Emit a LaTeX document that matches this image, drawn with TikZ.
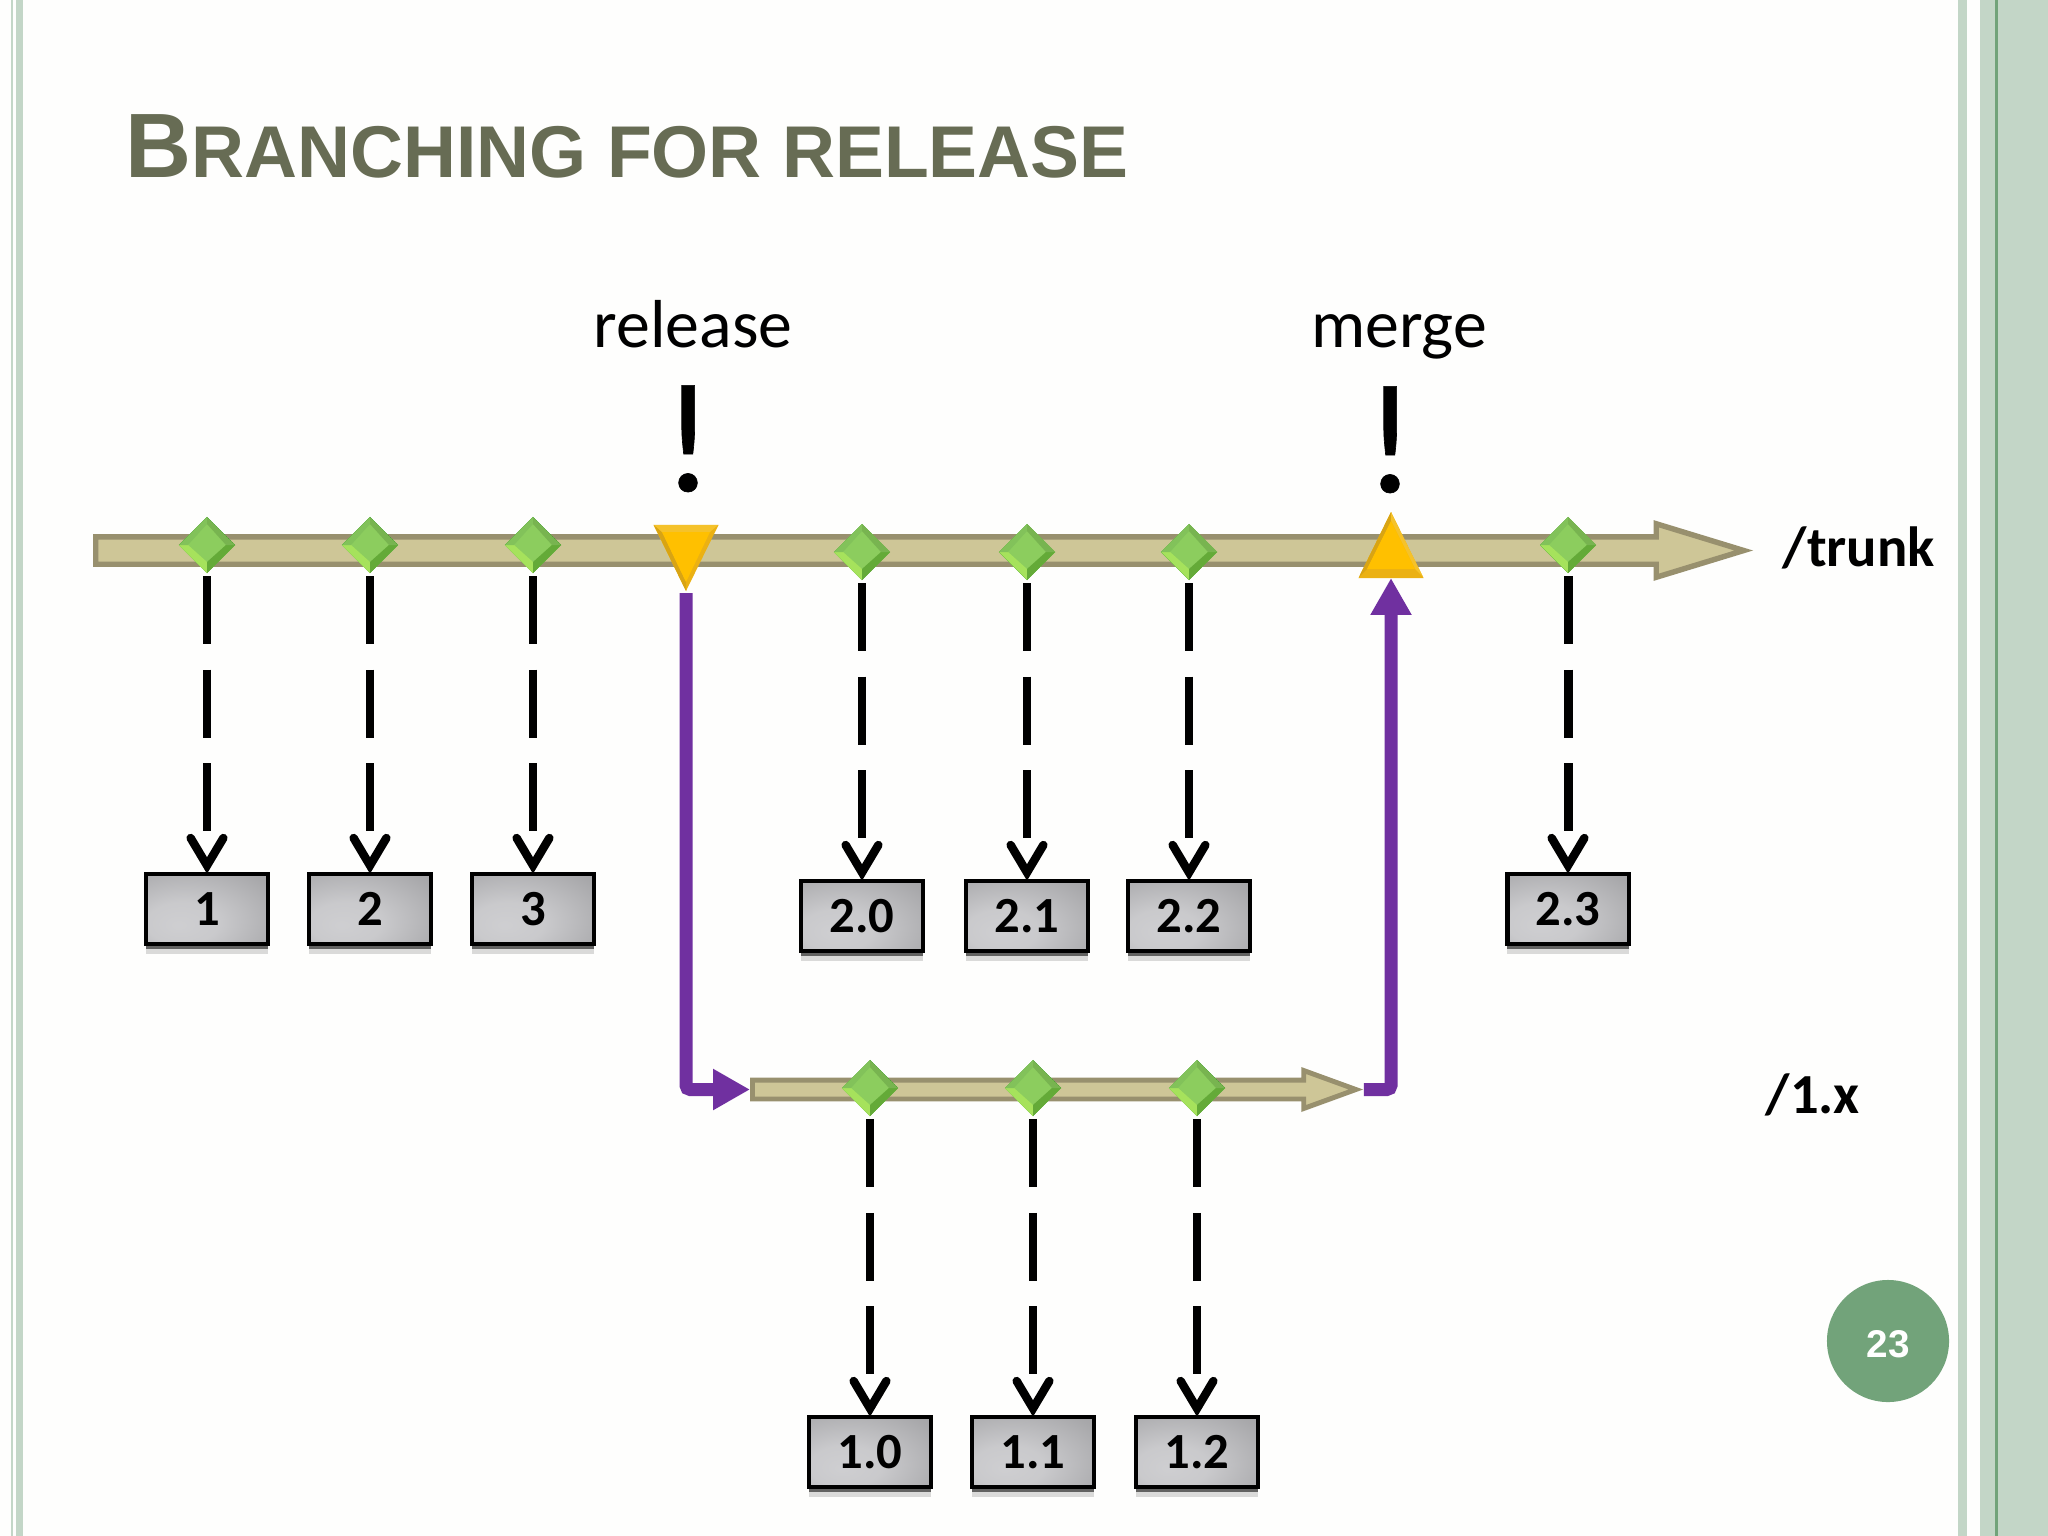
\documentclass[tikz,border=0pt]{standalone}
\usepackage{fontspec}
\setmainfont{Carlito}
\newfontfamily\titlefont{Liberation Sans}
\newfontfamily\bangfont[FakeBold=0.4]{Carlito}
\usetikzlibrary {arrows.meta, positioning, shapes.geometric, shapes.arrows, shadows}

\definecolor{pagebg}{HTML}{FEFEFD}
\definecolor{stripe}{HTML}{C3D6C7}
\definecolor{stripedark}{HTML}{72A37A}
\definecolor{shaftfill}{HTML}{CEC697}
\definecolor{shaftline}{HTML}{98906E}
\definecolor{branchline}{HTML}{7030A0}
\definecolor{titlegrey}{HTML}{676C54}
\definecolor{goldedge}{HTML}{EBB113}
\definecolor{golddark}{HTML}{D8A414}
\definecolor{goldlight}{HTML}{F5C22A}
\definecolor{goldmid}{HTML}{FFC000}
\pgfdeclareradialshading{tagshade}{\pgfpoint{-12bp}{-12bp}}{rgb(0bp)=(0.81,0.81,0.82); rgb(15bp)=(0.79,0.79,0.80); rgb(40bp)=(0.66,0.66,0.67); rgb(60bp)=(0.58,0.58,0.59); rgb(100bp)=(0.50,0.50,0.51)}

\begin{document}
\begin{tikzpicture}[
    x=0.01cm,
    y=-0.01cm,
    node distance=3.635cm,
    on grid,
    commit/.style={diamond, aspect=1, inner sep=0pt, outer sep=0pt, minimum width=.56cm, minimum height=.56cm, fill=green!50!black,
        path picture={
            \begin{scope}[shift={(path picture bounding box.center)}]
                \fill[color={rgb,255:red,140;green,205;blue,94}] (-28,0) -- (0,-28) -- (28,0) -- (0,28) -- cycle;
                \fill[color={rgb,255:red,166;green,226;blue,92}] (0,28) -- (-28,0) -- (-19,0) -- (0,17) -- cycle;
                \fill[color={rgb,255:red,100;green,170;blue,56}] (0,28) -- (28,0) -- (19,0) -- (0,17) -- cycle;
                \fill[color={rgb,255:red,130;green,194;blue,90}] (-28,0) -- (0,-28) -- (0,-21) -- (-19,0) -- cycle;
                \fill[color={rgb,255:red,120;green,180;blue,80}] (28,0) -- (0,-28) -- (0,-21) -- (19,0) -- cycle;
            \end{scope}}},
    tagbox/.style={rectangle, draw=black, line width=1.15pt, outer sep=0pt, inner sep=0pt, minimum width=1.21cm, minimum height=.70cm,
        shade, shading=tagshade, font=\fontsize{14.4}{16}\selectfont\bfseries,
        drop shadow={shadow xshift=0pt, shadow yshift=-3pt, opacity=.14, fill=black},
        drop shadow={shadow xshift=0pt, shadow yshift=-1.5pt, opacity=.55, fill=black}},
    tagline/.style={draw=black, line width=2.55pt, shorten <=0.03cm,
        dash pattern=on 19.28pt off 7.37pt on 19.28pt off 7.37pt on 19.28pt off 60pt,
        -{Straight Barb[length=7.8pt, width=9.3pt, line width=2.4pt, line cap=round, line join=miter]}},
    relline/.style={draw=branchline, line width=3.7pt, rounded corners=1.2pt,
        -{Triangle[length=10.5pt, width=11pt]}},
    goldtri/.style={isosceles triangle, isosceles triangle stretches, anchor=apex, inner sep=0pt, outer sep=0pt, minimum width=.65cm, minimum height=.66cm, fill=goldedge},
    bigarrow/.style={single arrow, anchor=tail, draw=shaftline, fill=shaftfill, inner xsep=0pt, outer sep=0pt},
    word/.style={anchor=base, font=\fontsize{19.3}{22}\selectfont},
    bang/.style={anchor=base, font=\bangfont\fontsize{44.5}{50}\selectfont},
    path/.style={anchor=base west, inner sep=0pt, font=\fontsize{16.1}{20}\selectfont\bfseries},
]

    \useasboundingbox (0,0) rectangle (2048,1536);
    \fill[pagebg] (0,0) rectangle (2048,1536);

    % page edges
    \fill[stripe] (11,0) rectangle (13,1536);
    \fill[stripe] (16,0) rectangle (23,1536);
    \fill[stripe] (1958,0) rectangle (1967,1536);
    \fill[stripe] (1980,0) rectangle (2048,1536);
    \fill[stripedark] (1995,0) rectangle (1998,1536);

    \node[anchor=base west, text=titlegrey, inner sep=0pt, font=\titlefont\bfseries] (title) at (125,177)
        {\fontsize{26}{30}\selectfont B\fontsize{20.85}{30}\selectfont RANCHING FOR RELEASE};

    \node[word] (releaselbl) at (693,347) {release};
    \node[word] (mergelbl)   at (1399,347) {merge};
    \node[bang] (releasebang) at (688,491) {!};
    \node[bang] (mergebang)   at (1390,492) {!};

    % the two lines
    \node[bigarrow, line width=1.55pt, inner ysep=.11cm, minimum height=16.47cm, single arrow head extend=.13cm, single arrow tip angle=34] (trunk) at (95.75,550.5) {};
    \node[bigarrow, line width=1.4pt, inner ysep=.07cm, minimum height=6.03cm, single arrow head extend=.095cm, single arrow tip angle=40] (onex) at (752.5,1089.5) {};

    \coordinate (onexin)  at ([xshift=-0.025cm]onex.tail);
    \coordinate (onexout) at ([xshift=0.08cm]onex.tip);

    \node[path] (trunklbl) at (1782,566) {/trunk};
    \node[path] (onexlbl)  at (1765,1113) {/1.x};

    \node[goldtri, shape border rotate=270] (rel) at (686,591) {};
    \node[goldtri, shape border rotate=90]  (mrg) at (1391,512) {};
    \begin{scope}[shift={(rel.apex)}]
        \fill[golddark]  (0,0) -- (-32,-66) -- (-24,-59) -- (0,-9) -- cycle;
        \fill[goldlight] (-32,-66) -- (32,-66) -- (24,-59) -- (-24,-59) -- cycle;
        \fill[goldmid] (-24,-59) -- (24,-59) -- (0,-9) -- cycle;
    \end{scope}
    \begin{scope}[shift={(mrg.apex)}]
        \fill[golddark]  (0,0) -- (-32,65) -- (-24,57) -- (0,9) -- cycle;
        \fill[goldlight] (0,0) -- (32,65) -- (24,57) -- (0,9) -- cycle;
        \fill[goldmid] (-24,57) -- (24,57) -- (0,9) -- cycle;
    \end{scope}

    % commits on /trunk
    \node[commit] (c1) at (207,545) {};
    \node[commit] (c2) at (370,545) {};
    \node[commit] (c3) at (533,545) {};
    \node[commit] (c4) at (862,552) {};
    \node[commit] (c5) at (1027,552) {};
    \node[commit] (c6) at (1189,552) {};
    \node[commit] (c7) at (1568,545) {};

    % commits on /1.x
    \node[commit] (d1) at (870,1088) {};
    \node[commit] (d2) at (1033,1088) {};
    \node[commit] (d3) at (1197,1088) {};

    \node[tagbox, below =of c1] (t1)  {1};
    \node[tagbox, below =of c2] (t2)  {2};
    \node[tagbox, below =of c3] (t3)  {3};
    \node[tagbox, below =of c4] (t20) {2.0};
    \node[tagbox, below =of c5] (t21) {2.1};
    \node[tagbox, below =of c6] (t22) {2.2};
    \node[tagbox, below =of c7] (t23) {2.3};
    \node[tagbox, below =of d1] (t10) {1.0};
    \node[tagbox, below =of d2] (t11) {1.1};
    \node[tagbox, below =of d3] (t12) {1.2};

    \draw[tagline] (c1.south) -- (t1.north);
    \draw[tagline] (c2.south) -- (t2.north);
    \draw[tagline] (c3.south) -- (t3.north);
    \draw[tagline] (c4.south) -- (t20.north);
    \draw[tagline] (c5.south) -- (t21.north);
    \draw[tagline] (c6.south) -- (t22.north);
    \draw[tagline] (c7.south) -- (t23.north);
    \draw[tagline] (d1.south) -- (t10.north);
    \draw[tagline] (d2.south) -- (t11.north);
    \draw[tagline] (d3.south) -- (t12.north);

    \draw[relline, shorten <=0.02cm] (rel.apex) |- (onexin);
    \draw[relline] (onexout) -| (mrg.south);

    \node[circle, fill=stripedark, text=white, inner sep=0pt, minimum size=1.22cm, text height=9.4pt, text depth=0pt, font=\titlefont\bfseries\fontsize{11}{13}\selectfont] (pagenum) at (1888,1341) {23};
\end{tikzpicture}
\end{document}
